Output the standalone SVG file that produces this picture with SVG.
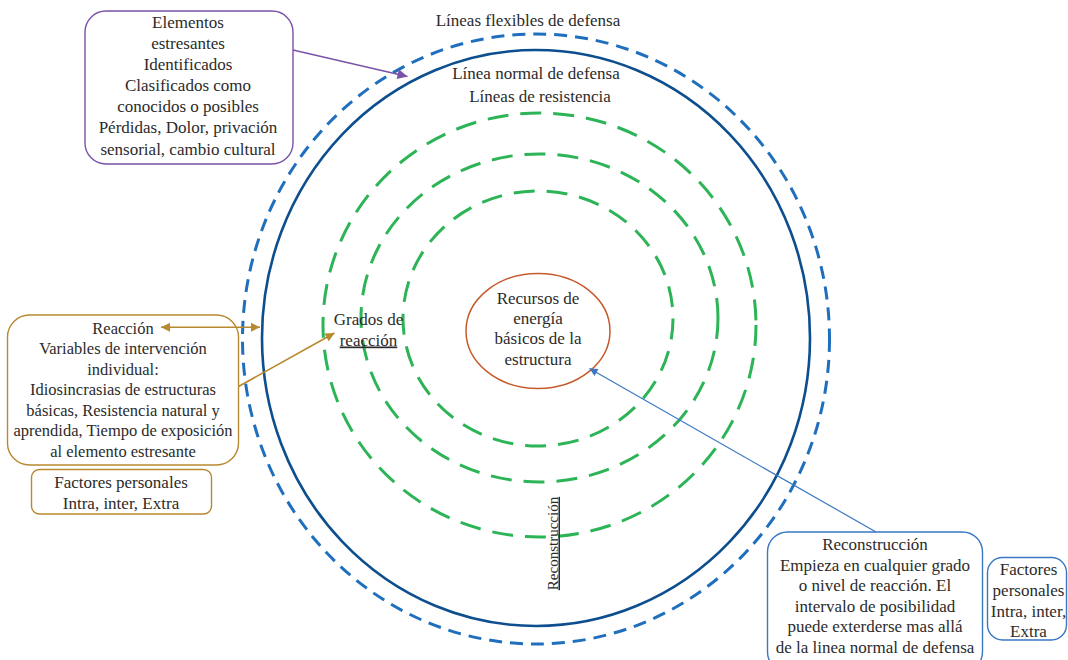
<svg xmlns="http://www.w3.org/2000/svg" width="1068" height="660" viewBox="0 0 1068 660">
<style>
text{font-family:"Liberation Serif","Times New Roman",serif;fill:#2b2b2b;text-anchor:middle}
.t17{font-size:17px}
.t165{font-size:16.5px}
.flex{fill:none;stroke:#1f6fbd;stroke-width:3;stroke-dasharray:13 8}
.norm{fill:none;stroke:#0d4e8e;stroke-width:2.6}
.res{fill:none;stroke:#2cb457;stroke-width:3;stroke-dasharray:21 12}
.box{fill:#fff;stroke-width:1.4}
</style>
<defs>
<marker id="mPurple" viewBox="0 0 10 10" refX="10" refY="5" markerWidth="12" markerHeight="10" markerUnits="userSpaceOnUse" orient="auto-start-reverse"><path d="M0,0L10,5L0,10z" fill="#7a52a8"/></marker>
<marker id="mGold" viewBox="0 0 10 10" refX="10" refY="5" markerWidth="10" markerHeight="9" markerUnits="userSpaceOnUse" orient="auto-start-reverse"><path d="M0,0L10,5L0,10z" fill="#b8892e"/></marker>
<marker id="mBlue" viewBox="0 0 10 10" refX="10" refY="5" markerWidth="9" markerHeight="8" markerUnits="userSpaceOnUse" orient="auto-start-reverse"><path d="M0,0L10,5L0,10z" fill="#3a78c4"/></marker>
</defs>

<g id="lines-of-defense">
<ellipse class="flex" cx="536" cy="339" rx="293.5" ry="305"/>
<ellipse class="norm" cx="536" cy="338" rx="274" ry="288"/>
<ellipse class="res" cx="539.5" cy="325" rx="216.5" ry="212"/>
<ellipse class="res" cx="539.5" cy="318" rx="178.5" ry="164"/>
<ellipse class="res" cx="538" cy="318.5" rx="135" ry="127.5"/>
</g>

<g id="label-flexible"><text class="t17" x="528" y="26">Líneas flexibles de defensa</text></g>
<g id="label-normal"><text class="t17" x="536" y="79">Línea normal de defensa</text></g>
<g id="label-resistance"><text class="t17" x="540" y="102">Líneas de resistencia</text></g>

<g id="core">
<ellipse cx="538" cy="331" rx="72" ry="57.5" fill="#fff" stroke="#c55a2a" stroke-width="1.5"/>
<text class="t17" x="538" y="303.5">Recursos de</text>
<text class="t17" x="538" y="323.5">energía</text>
<text class="t17" x="538" y="344">básicos de la</text>
<text class="t17" x="538" y="365">estructura</text>
</g>

<g id="grados">
<text class="t17" x="368.5" y="325">Grados de</text>
<text class="t17" x="368.5" y="345.5" text-decoration="underline">reacción</text>
</g>

<g id="reconstruccion-label">
<text x="557.5" y="543.5" transform="rotate(-90 557.5 543.5)" style="font-size:15px" text-decoration="underline">Reconstrucción</text>
</g>

<g id="stressors">
<rect class="box" x="85" y="11" width="208" height="153" rx="21" stroke="#7a52a8"/>
<text class="t17" x="188" y="28">Elementos</text>
<text class="t17" x="188" y="49">estresantes</text>
<text class="t17" x="188" y="70">Identificados</text>
<text class="t17" x="188" y="91">Clasificados como</text>
<text class="t17" x="188" y="112">conocidos o posibles</text>
<text class="t17" x="188" y="133">Pérdidas, Dolor, privación</text>
<text class="t17" x="188" y="154.5">sensorial, cambio cultural</text>
</g>

<g id="reaction">
<rect class="box" x="7.5" y="315" width="231" height="150" rx="22" stroke="#b8892e"/>
<text class="t165" x="123" y="333.5">Reacción</text>
<text class="t165" x="123" y="354">Variables de intervención</text>
<text class="t165" x="123" y="374.5">individual:</text>
<text class="t165" x="123" y="395">Idiosincrasias de estructuras</text>
<text class="t165" x="123" y="415.5">básicas, Resistencia natural y</text>
<text class="t165" x="123" y="436">aprendida, Tiempo de exposición</text>
<text class="t165" x="123" y="456.5">al elemento estresante</text>
</g>

<g id="personal-left">
<rect class="box" x="31.5" y="469.5" width="180" height="44.5" rx="8" stroke="#b8892e"/>
<text class="t17" x="121" y="487.5">Factores personales</text>
<text class="t17" x="121" y="508.5">Intra, inter, Extra</text>
</g>

<g id="reconstruction">
<rect class="box" x="767.5" y="532" width="215" height="140" rx="20" stroke="#3a78c4"/>
<text class="t17" x="875" y="549.5">Reconstrucción</text>
<text class="t17" x="875" y="570.5">Empieza en cualquier grado</text>
<text class="t17" x="875" y="591">o nivel de reacción. El</text>
<text class="t17" x="875" y="611.5">intervalo de posibilidad</text>
<text class="t17" x="875" y="632">puede exterderse mas allá</text>
<text class="t17" x="875" y="653">de la linea normal de defensa</text>
</g>

<g id="personal-right">
<rect class="box" x="987.5" y="557.5" width="79" height="82.5" rx="15" stroke="#3a78c4"/>
<text class="t17" x="1028.5" y="575">Factores</text>
<text class="t17" x="1028.5" y="595.5">personales</text>
<text class="t17" x="1028.5" y="616.5">Intra, inter,</text>
<text class="t17" x="1028.5" y="637">Extra</text>
</g>

<g id="connectors" fill="none">
<line x1="293" y1="50" x2="407.5" y2="76.5" stroke="#7a52a8" stroke-width="1.4" marker-end="url(#mPurple)"/>
<line x1="161" y1="327.3" x2="260" y2="327.3" stroke="#b8892e" stroke-width="1.6" marker-start="url(#mGold)" marker-end="url(#mGold)"/>
<line x1="238.5" y1="386.5" x2="334.5" y2="333" stroke="#b8892e" stroke-width="1.6" marker-end="url(#mGold)"/>
<line x1="876" y1="532" x2="589.5" y2="368.5" stroke="#3a78c4" stroke-width="1.2" marker-end="url(#mBlue)"/>
</g>
</svg>
